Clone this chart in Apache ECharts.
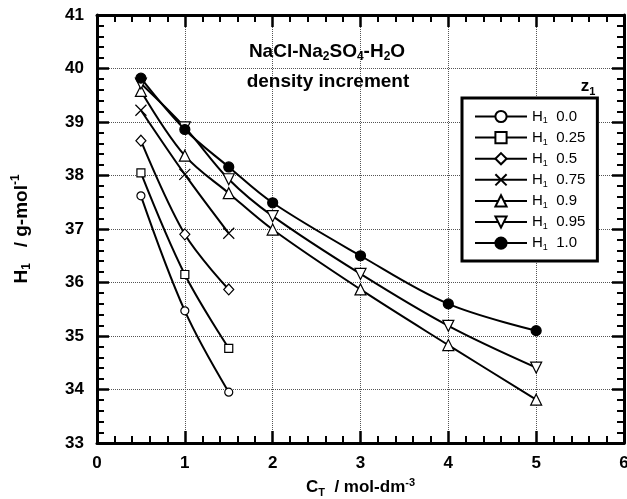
<!DOCTYPE html>
<html><head><meta charset="utf-8">
<script src="https://cdn.jsdelivr.net/npm/echarts@6/dist/echarts.min.js"></script>
<style>html,body{margin:0;padding:0;background:#fff}#c{width:627px;height:499px}</style>
</head><body><div id="c"></div>
<script>
// ---- data ----
const xTickLabels = ['0','1','2','3','4','5','6'];
const yTickLabels = ['33','34','35','36','37','38','39','40','41'];
const cShort = [0.5, 1, 1.5];
const cLong = [0.5, 1, 1.5, 2, 3, 4, 5];
const zLabels = ['0.0', '0.25', '0.5', '0.75', '0.9', '0.95', '1.0'];
const h_z000 = [37.62, 35.47, 33.95];
const h_z025 = [38.05, 36.15, 34.77];
const h_z050 = [38.65, 36.90, 35.87];
const h_z075 = [39.22, 38.02, 36.92];
const h_z090 = [39.58, 38.37, 37.67, 36.99, 35.87, 34.83, 33.81];
const h_z095 = [39.72, 38.90, 37.93, 37.24, 36.16, 35.19, 34.41];
const h_z100 = [39.82, 38.86, 38.16, 37.49, 36.50, 35.60, 35.10];

const F = '"Liberation Sans", Arial, Helvetica, sans-serif';
function rich(size, weight) {
  const L = size + 4;
  const s = Math.round(size * 0.62);
  return {
    b: {fontSize: size, fontWeight: weight, fontFamily: F, color: '#000', lineHeight: L},
    sub: {fontSize: s, fontWeight: weight, fontFamily: F, color: '#000', lineHeight: L, verticalAlign: 'bottom'},
    sup: {fontSize: s, fontWeight: weight, fontFamily: F, color: '#000', lineHeight: L, verticalAlign: 'top'}
  };
}

const xPath = 'path://M0,0L10,10M10,0L0,10';
const specs = [
  {z: zLabels[0], xs: cShort, ys: h_z000, symbol: 'circle', size: 8, fill: '#fff'},
  {z: zLabels[1], xs: cShort, ys: h_z025, symbol: 'rect', size: 8, fill: '#fff'},
  {z: zLabels[2], xs: cShort, ys: h_z050, symbol: 'diamond', size: [10, 11], fill: '#fff'},
  {z: zLabels[3], xs: cShort, ys: h_z075, symbol: xPath, size: 11, fill: '#fff'},
  {z: zLabels[4], xs: cLong, ys: h_z090, symbol: 'triangle', size: 11, fill: '#fff'},
  {z: zLabels[5], xs: cLong, ys: h_z095, symbol: 'triangle', size: 11, fill: '#fff', rotate: 180},
  {z: zLabels[6], xs: cLong, ys: h_z100, symbol: 'circle', size: 10, fill: '#000'}
];

const series = specs.map(sp => ({
  name: 'H1 ' + sp.z,
  type: 'line',
  smooth: 0.35,
  data: sp.xs.map((x, i) => [x, sp.ys[i]]),
  symbol: sp.symbol,
  symbolSize: sp.size,
  symbolRotate: sp.rotate || 0,
  showAllSymbol: true,
  lineStyle: {color: '#000', width: 2},
  itemStyle: {color: sp.fill, borderColor: '#000', borderWidth: 1.2},
  emphasis: {disabled: true},
  z: 3
}));

function axisBase(extra) {
  return Object.assign({
    type: 'value',
    axisLine: {show: true, onZero: false, lineStyle: {color: '#000', width: 3}},
    axisTick: {show: true, inside: true, length: 12, lineStyle: {color: '#000', width: 2.5}},
    minorTick: {show: true, splitNumber: 5, length: 7, lineStyle: {color: '#000', width: 2}},
    splitLine: {show: false},
    minorSplitLine: {show: false}
  }, extra);
}

const labelStyle = {fontSize: 17, fontWeight: 'bold', fontFamily: F, color: '#000'};

const option = {
  animation: false,
  backgroundColor: '#fff',
  grid: {left: 97, right: 3, top: 15, bottom: 56, containLabel: false, outerBoundsMode: 'none'},
  xAxis: [
    axisBase({
      position: 'bottom', min: 0, max: 6, interval: 1,
      axisLabel: Object.assign({margin: 12, formatter: v => xTickLabels[Math.round(v)]}, labelStyle),
      splitLine: {show: true, lineStyle: {type: 'dotted', color: '#555', width: 1}},
      name: '{b|C}{sub|T}{b|  / mol-dm}{sup|-3}',
      nameLocation: 'middle', nameGap: 34,
      nameTextStyle: {rich: rich(17, 'bold')}
    }),
    axisBase({position: 'top', min: 0, max: 6, interval: 1, axisLabel: {show: false}})
  ],
  yAxis: [
    axisBase({
      position: 'left', min: 33, max: 41, interval: 1,
      axisLabel: Object.assign({margin: 13, formatter: v => yTickLabels[Math.round(v - 33)]}, labelStyle),
      splitLine: {show: true, lineStyle: {type: 'dotted', color: '#555', width: 1}},
      name: '{b|H}{sub|1}{b|   / g-mol}{sup|-1}',
      nameLocation: 'middle', nameRotate: 90, nameGap: 64,
      nameTextStyle: {rich: rich(19, 'bold')}
    }),
    axisBase({position: 'right', min: 33, max: 41, interval: 1, axisLabel: {show: false}})
  ],
  legend: {
    orient: 'vertical',
    left: 462, top: 98,
    backgroundColor: '#fff',
    borderColor: '#000', borderWidth: 3, borderRadius: 0,
    padding: [11, 12, 9, 12],
    itemWidth: 52, itemHeight: 14, itemGap: 4.6,
    selectedMode: false,
    data: series.map(s => s.name),
    formatter: name => '{a|H}{s|1}{a|  ' + name.split(' ')[1] + '}',
    textStyle: {
      fontFamily: F, fontSize: 15, color: '#000',
      rich: {
        a: {fontSize: 15, fontFamily: F, color: '#000', lineHeight: 18},
        s: {fontSize: 9, fontFamily: F, color: '#000', lineHeight: 18, verticalAlign: 'bottom'}
      }
    }
  },
  graphic: [
    {type: 'text', x: 327, y: 40, z: 10,
     style: {text: '{b|NaCl-Na}{sub|2}{b|SO}{sub|4}{b|-H}{sub|2}{b|O}', rich: rich(19, 'bold'), align: 'center', verticalAlign: 'top'}},
    {type: 'text', x: 328, y: 70, z: 10,
     style: {text: '{b|density increment}', rich: rich(19, 'bold'), align: 'center', verticalAlign: 'top'}},
    {type: 'text', x: 588, y: 76, z: 10,
     style: {text: '{b|z}{sub|1}', rich: rich(17, 'bold'), align: 'center', verticalAlign: 'top'}}
  ],
  series: series
};

const chart = echarts.init(document.getElementById('c'), null, {renderer: 'canvas'});
chart.setOption(option);
</script>
</body></html>
